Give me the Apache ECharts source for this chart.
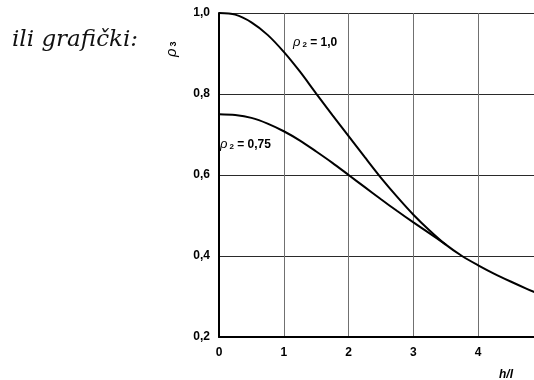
<!DOCTYPE html>
<html>
<head>
<meta charset="utf-8">
<script src="https://cdn.jsdelivr.net/npm/echarts@6/dist/echarts.min.js"></script>
<style>
  html, body { margin: 0; padding: 0; background: #fff; overflow: hidden; }
  #chart { width: 534px; height: 380px; }
</style>
</head>
<body>
<div id="chart"></div>
<script>
// h/l values and rho3 readings for the two curves
const hlUpper = [0, 0.25, 0.5, 0.75, 1.0, 1.25, 1.5, 1.75, 2.0, 2.25, 2.5, 2.75, 3.0, 3.25, 3.5, 3.75, 4.0, 4.25, 4.5, 4.75, 5.0];
const rhoUpper = [1.0, 0.996, 0.977, 0.946, 0.904, 0.855, 0.801, 0.748, 0.696, 0.644, 0.593, 0.546, 0.502, 0.463, 0.428, 0.400, 0.377, 0.356, 0.337, 0.319, 0.302];

const hlLower = [0, 0.25, 0.5, 0.75, 1.0, 1.25, 1.5, 1.75, 2.0, 2.25, 2.5, 2.75, 3.0, 3.25, 3.5];
const rhoLower = [0.75, 0.748, 0.741, 0.727, 0.708, 0.685, 0.658, 0.63, 0.6, 0.57, 0.54, 0.511, 0.483, 0.456, 0.428];

const xTicks = [0, 1, 2, 3, 4, 5];
const yTicks = [0.2, 0.4, 0.6, 0.8, 1.0];

const pairs = (xs, ys) => xs.map((x, i) => [x, ys[i]]);
const comma = v => v.toFixed(1).replace('.', ',');

const chart = echarts.init(document.getElementById('chart'), null, { renderer: 'canvas' });

const labelFont = '"Liberation Sans", Arial, sans-serif';
const rhoRich = {
  r: { font: 'italic 13px "Liberation Sans", Arial, sans-serif', fill: '#000' },
  s: { font: 'bold 8px "Liberation Sans", Arial, sans-serif', fill: '#000', padding: [5, 0, 0, 2] },
  t: { font: 'bold 12px "Liberation Sans", Arial, sans-serif', fill: '#000' }
};
const axisNameRich = {
  r: { font: 'italic 15px "Liberation Sans", Arial, sans-serif', fill: '#000' },
  s: { font: 'bold 9px "Liberation Sans", Arial, sans-serif', fill: '#000', padding: [5, 0, 0, 2] }
};

chart.setOption({
  animation: false,
  backgroundColor: '#fff',
  // plot box runs past the right edge of the page; only h/l up to ~4.86 is visible
  grid: {
    left: 219, top: 13, width: 324, height: 324,
    containLabel: false, outerBoundsMode: 'none'
  },
  xAxis: {
    type: 'value',
    min: xTicks[0],
    max: xTicks[xTicks.length - 1],
    interval: 1,
    axisLine: { show: true, onZero: false, lineStyle: { color: '#000', width: 2 } },
    axisTick: { show: false },
    axisLabel: {
      color: '#000', fontFamily: labelFont, fontWeight: 'bold', fontSize: 12, margin: 10,
      formatter: v => (v < 5 ? String(v) : '')
    },
    splitLine: { show: true, lineStyle: { color: '#707070', width: 1 } }
  },
  yAxis: {
    type: 'value',
    min: yTicks[0],
    max: yTicks[yTicks.length - 1],
    interval: 0.2,
    axisLine: { show: true, onZero: false, lineStyle: { color: '#000', width: 2 } },
    axisTick: { show: false },
    axisLabel: {
      color: '#000', fontFamily: labelFont, fontWeight: 'bold', fontSize: 12, margin: 9,
      formatter: v => comma(v)
    },
    splitLine: { show: true, lineStyle: { color: '#2a2a2a', width: 1 } }
  },
  series: [
    {
      name: 'rho2 = 1,0',
      type: 'line',
      data: pairs(hlUpper, rhoUpper),
      smooth: 0.3,
      showSymbol: false,
      lineStyle: { color: '#000', width: 2 },
      z: 5
    },
    {
      name: 'rho2 = 0,75',
      type: 'line',
      data: pairs(hlLower, rhoLower),
      smooth: 0.3,
      showSymbol: false,
      lineStyle: { color: '#000', width: 2 },
      z: 5
    }
  ],
  graphic: [
    {
      type: 'text', x: 12, y: 29,
      style: {
        text: 'ili grafički:', fill: '#111',
        font: 'italic 23px "DejaVu Serif", serif'
      }
    },
    {
      type: 'text', x: 293, y: 36,
      style: { text: '{r|ρ}{s|2}{t| = 1,0}', rich: rhoRich }
    },
    {
      type: 'text', x: 220, y: 138,
      style: { text: '{r|ρ}{s|2}{t| = 0,75}', rich: rhoRich }
    },
    {
      type: 'text', x: 164, y: 57, rotation: Math.PI / 2,
      style: { text: '{r|ρ}{s|3}', rich: axisNameRich }
    },
    {
      type: 'text', x: 499, y: 369,
      style: {
        text: 'h/l', fill: '#000',
        font: 'italic bold 12px "Liberation Sans", Arial, sans-serif'
      }
    }
  ]
});
</script>
</body>
</html>
